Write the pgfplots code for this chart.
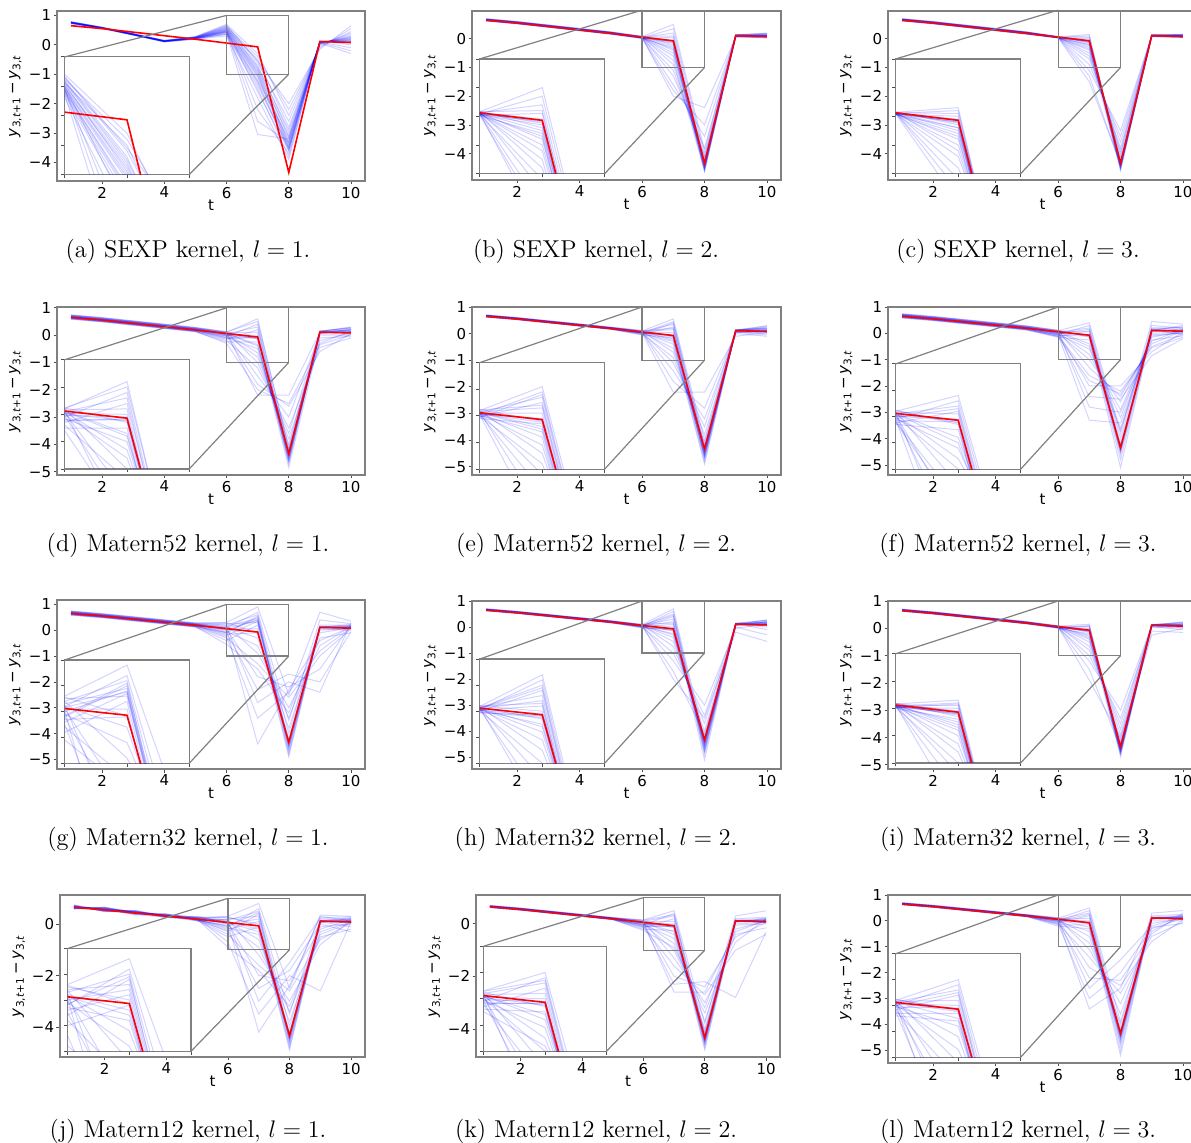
\documentclass[border=0pt]{standalone}
\usepackage{pgfplots}
\usepackage{pgfplotstable}
\pgfplotsset{compat=1.18}
\usepackage{fontspec}
\newfontfamily\dv{DejaVu Sans}
\newcommand\tickfont{\dv\fontsize{7.5}{8.5}\selectfont}

\pgfplotstableread{
1 0.65
2 0.55
3 0.43
4 0.31
5 0.19
6 0.06
7 -0.07
8 -4.34
9 0.11
10 0.08
}\tabR

% (a) SEXP l=1
\pgfplotstableread{
1 0.76 0.74 0.78 0.75 0.77 0.73 0.79 0.76 0.74 0.77 0.72 0.75 0.76 0.78 0.74 0.73 0.77 0.75 0.76 0.74 0.76 0.75 0.77 0.75
2 0.58 0.57 0.59 0.58 0.57 0.56 0.60 0.58 0.56 0.59 0.55 0.57 0.58 0.59 0.57 0.56 0.58 0.57 0.58 0.56 0.58 0.57 0.59 0.57
3 0.36 0.35 0.37 0.34 0.36 0.33 0.38 0.35 0.34 0.37 0.33 0.36 0.35 0.38 0.34 0.35 0.36 0.35 0.36 0.34 0.36 0.35 0.37 0.35
4 0.13 0.12 0.14 0.11 0.13 0.10 0.15 0.12 0.12 0.14 0.10 0.13 0.12 0.15 0.11 0.12 0.13 0.12 0.14 0.11 0.13 0.12 0.13 0.12
5 0.24 0.22 0.26 0.20 0.25 0.21 0.28 0.23 0.22 0.27 0.19 0.24 0.23 0.27 0.21 0.22 0.25 0.23 0.26 0.20 0.24 0.23 0.25 0.22
6 0.50 0.45 0.60 0.40 0.55 0.35 0.70 0.48 0.42 0.65 0.30 0.52 0.46 0.62 0.38 0.44 0.58 0.50 0.66 0.36 0.54 0.47 0.57 0.43
7 -0.90 -1.10 -0.70 -1.30 -0.50 -1.50 -0.30 -1.00 -1.20 -0.60 -1.80 -0.85 -2.20 -0.40 -1.40 -2.60 -0.75 -1.60 -0.55 -3.05 -0.95 -1.05 -0.80 -1.25
8 -3.30 -3.50 -3.00 -3.60 -2.80 -3.80 -2.40 -3.40 -3.20 -2.60 -3.90 -3.10 -3.70 -2.20 -3.50 -3.30 -2.90 -3.60 -2.00 -3.20 -3.35 -3.45 -3.15 -3.55
9 0.08 0.10 0.05 0.12 0.02 0.13 -0.05 0.09 0.11 0.00 0.14 0.07 0.10 -0.10 0.12 0.08 0.04 0.11 -0.15 0.06 0.09 0.10 0.06 0.11
10 0.20 0.15 0.30 0.10 0.35 0.05 0.45 0.25 0.18 0.40 0.00 0.22 -0.10 0.55 0.12 -0.20 0.28 0.08 0.65 -0.30 0.17 0.14 0.24 0.11
}\tabA

% (b) SEXP l=2
\pgfplotstableread{
1 0.69 0.64 0.67 0.63 0.68 0.66 0.65 0.70 0.62 0.68 0.64 0.67 0.66 0.69 0.63 0.67 0.65 0.68 0.64 0.66 0.70 0.65 0.67 0.63
2 0.59 0.54 0.57 0.53 0.58 0.56 0.55 0.60 0.52 0.58 0.54 0.57 0.56 0.59 0.53 0.57 0.55 0.58 0.54 0.56 0.60 0.55 0.57 0.53
3 0.47 0.42 0.45 0.41 0.46 0.44 0.43 0.48 0.40 0.46 0.42 0.45 0.44 0.47 0.41 0.45 0.43 0.46 0.42 0.44 0.48 0.43 0.45 0.41
4 0.35 0.30 0.33 0.29 0.34 0.32 0.31 0.36 0.28 0.34 0.30 0.33 0.32 0.35 0.29 0.33 0.31 0.34 0.30 0.32 0.36 0.31 0.33 0.29
5 0.23 0.18 0.21 0.17 0.22 0.20 0.19 0.24 0.16 0.22 0.18 0.21 0.20 0.23 0.17 0.21 0.19 0.22 0.18 0.20 0.24 0.19 0.21 0.17
6 0.08 0.04 0.06 0.02 0.07 0.05 0.03 0.09 0.01 0.06 0.04 0.05 0.05 0.07 0.03 0.06 0.04 0.05 0.03 0.06 0.08 0.05 0.04 0.02
7 0.50 0.35 0.20 0.05 -0.05 -0.10 -0.15 -0.20 -0.30 -0.40 -0.50 -0.60 -0.75 -0.90 -1.10 -1.30 -1.60 -2.00 -0.08 -0.12 0.10 -0.25 -0.35 -1.80
8 -3.90 -4.05 -4.20 -4.30 -4.40 -4.45 -4.50 -4.55 -4.60 -4.35 -4.40 -4.50 -4.62 -4.25 -4.10 -3.80 -3.40 -2.40 -4.38 -4.42 -4.48 -4.33 -4.58 -3.00
9 0.15 0.12 0.10 0.08 0.13 0.11 0.09 0.14 0.07 0.12 0.10 0.11 0.10 0.13 0.09 0.11 0.10 0.06 0.11 0.12 0.14 0.10 0.12 0.08
10 0.12 0.10 0.14 0.06 0.18 0.09 0.11 0.20 0.04 0.13 0.08 0.16 0.10 0.15 0.07 0.12 0.09 0.05 0.10 0.11 0.19 0.12 0.08 0.03
}\tabB

% (c) SEXP l=3
\pgfplotstableread{
1 0.69 0.64 0.67 0.63 0.68 0.66 0.65 0.70 0.62 0.68 0.64 0.67 0.66 0.69 0.63 0.67 0.65 0.68 0.64 0.66 0.70 0.65 0.67 0.63
2 0.59 0.54 0.57 0.53 0.58 0.56 0.55 0.60 0.52 0.58 0.54 0.57 0.56 0.59 0.53 0.57 0.55 0.58 0.54 0.56 0.60 0.55 0.57 0.53
3 0.47 0.42 0.45 0.41 0.46 0.44 0.43 0.48 0.40 0.46 0.42 0.45 0.44 0.47 0.41 0.45 0.43 0.46 0.42 0.44 0.48 0.43 0.45 0.41
4 0.35 0.30 0.33 0.29 0.34 0.32 0.31 0.36 0.28 0.34 0.30 0.33 0.32 0.35 0.29 0.33 0.31 0.34 0.30 0.32 0.36 0.31 0.33 0.29
5 0.23 0.18 0.21 0.17 0.22 0.20 0.19 0.24 0.16 0.22 0.18 0.21 0.20 0.23 0.17 0.21 0.19 0.22 0.18 0.20 0.24 0.19 0.21 0.17
6 0.07 0.05 0.06 0.04 0.06 0.05 0.04 0.08 0.03 0.06 0.04 0.05 0.05 0.07 0.04 0.06 0.05 0.06 0.04 0.05 0.07 0.05 0.06 0.03
7 0.15 0.10 0.05 0.00 -0.05 -0.10 -0.10 -0.15 -0.20 -0.25 -0.30 -0.40 -0.50 -0.60 -0.70 -0.90 -1.10 -1.30 -1.50 -0.08 -0.12 -0.06 -0.20 -0.35
8 -4.50 -4.45 -4.40 -4.35 -4.30 -4.50 -4.60 -4.40 -4.20 -4.30 -4.10 -4.00 -3.90 -3.80 -3.60 -3.40 -3.20 -4.40 -4.35 -4.50 -4.40 -4.30 -4.45 -4.55
9 0.13 0.11 0.12 0.09 0.14 0.10 0.11 0.15 0.08 0.12 0.10 0.11 0.09 0.13 0.10 0.12 0.11 0.14 0.09 0.11 0.12 0.10 0.13 0.08
10 0.10 0.08 0.12 0.06 0.14 0.09 0.11 0.16 0.05 0.12 0.07 0.13 0.09 0.15 0.06 0.10 0.08 0.12 0.07 0.09 0.14 0.11 0.10 0.04
}\tabC

% (d) Matern52 l=1
\pgfplotstableread{
1 0.72 0.62 0.68 0.60 0.70 0.66 0.64 0.74 0.58 0.70 0.62 0.68 0.66 0.72 0.60 0.68 0.64 0.70 0.62 0.66 0.74 0.64 0.68 0.60
2 0.62 0.52 0.58 0.50 0.60 0.56 0.54 0.64 0.48 0.60 0.52 0.58 0.56 0.62 0.50 0.58 0.54 0.60 0.52 0.56 0.64 0.54 0.58 0.50
3 0.50 0.40 0.46 0.38 0.48 0.44 0.42 0.52 0.36 0.48 0.40 0.46 0.44 0.50 0.38 0.46 0.42 0.48 0.40 0.44 0.52 0.42 0.46 0.38
4 0.38 0.28 0.34 0.26 0.36 0.32 0.30 0.40 0.24 0.36 0.28 0.34 0.32 0.38 0.26 0.34 0.30 0.36 0.28 0.32 0.40 0.30 0.34 0.26
5 0.26 0.16 0.22 0.14 0.24 0.20 0.18 0.28 0.12 0.24 0.16 0.22 0.20 0.26 0.14 0.22 0.18 0.24 0.16 0.20 0.28 0.18 0.22 0.14
6 0.10 -0.05 0.05 -0.15 0.08 0.02 -0.10 0.12 -0.25 0.06 -0.08 0.04 0.00 0.10 -0.20 0.03 -0.03 0.07 -0.12 0.01 0.12 -0.02 0.05 -0.30
7 0.60 0.40 0.30 0.20 0.10 0.00 -0.10 -0.15 -0.25 -0.35 -0.50 -0.65 -0.80 -1.00 -1.20 -1.50 -1.80 -2.20 -0.08 -0.12 0.50 -0.05 -0.40 -2.00
8 -4.20 -4.40 -4.50 -4.30 -4.60 -4.45 -4.35 -4.70 -4.85 -4.50 -4.20 -4.00 -3.80 -3.60 -3.40 -3.00 -2.60 -2.20 -4.40 -4.55 -4.10 -4.65 -4.30 -2.50
9 0.15 0.10 0.12 0.05 0.13 0.08 0.00 0.14 -0.10 0.11 -0.20 0.09 -0.30 0.12 -0.45 0.06 -0.60 0.10 0.11 0.13 0.15 0.09 0.07 -0.35
10 0.25 0.10 0.20 0.05 0.30 0.12 0.00 0.28 -0.05 0.18 0.08 0.22 0.15 0.10 -0.10 0.20 0.05 0.15 0.12 0.18 0.26 0.09 0.14 0.02
}\tabD

% (e) Matern52 l=2
\pgfplotstableread{
1 0.69 0.64 0.67 0.63 0.68 0.66 0.65 0.70 0.62 0.68 0.64 0.67 0.66 0.69 0.63 0.67 0.65 0.68 0.64 0.66 0.70 0.65 0.67 0.63
2 0.59 0.54 0.57 0.53 0.58 0.56 0.55 0.60 0.52 0.58 0.54 0.57 0.56 0.59 0.53 0.57 0.55 0.58 0.54 0.56 0.60 0.55 0.57 0.53
3 0.47 0.42 0.45 0.41 0.46 0.44 0.43 0.48 0.40 0.46 0.42 0.45 0.44 0.47 0.41 0.45 0.43 0.46 0.42 0.44 0.48 0.43 0.45 0.41
4 0.35 0.30 0.33 0.29 0.34 0.32 0.31 0.36 0.28 0.34 0.30 0.33 0.32 0.35 0.29 0.33 0.31 0.34 0.30 0.32 0.36 0.31 0.33 0.29
5 0.23 0.18 0.21 0.17 0.22 0.20 0.19 0.24 0.16 0.22 0.18 0.21 0.20 0.23 0.17 0.21 0.19 0.22 0.18 0.20 0.24 0.19 0.21 0.17
6 0.10 0.02 0.07 -0.02 0.08 0.05 0.03 0.12 -0.05 0.06 0.01 0.05 0.04 0.09 0.00 0.06 0.03 0.07 0.02 0.05 0.11 0.04 0.06 -0.03
7 0.55 0.45 0.35 0.25 0.15 0.05 -0.05 -0.10 -0.15 -0.20 -0.30 -0.40 -0.55 -0.70 -0.90 -1.10 -1.40 -1.80 -2.20 -0.08 0.20 -0.12 -0.25 0.40
8 -4.00 -4.20 -4.40 -4.50 -4.60 -4.70 -4.45 -4.35 -4.55 -4.65 -4.80 -4.90 -4.30 -4.10 -3.80 -3.50 -3.20 -2.80 -2.20 -4.40 -4.50 -4.38 -4.60 -4.25
9 0.15 0.12 0.10 0.08 0.13 0.11 0.09 0.14 0.07 0.12 0.10 0.11 0.06 0.13 0.05 0.11 0.00 0.04 -0.10 0.11 0.12 0.10 0.12 0.14
10 0.20 0.10 0.25 0.05 0.30 0.09 0.12 0.22 0.00 0.15 0.08 0.18 -0.05 0.20 0.06 0.12 -0.10 0.10 0.04 0.10 0.28 0.12 0.08 0.16
}\tabE

% (f) Matern52 l=3
\pgfplotstableread{
1 0.72 0.62 0.68 0.60 0.70 0.66 0.64 0.74 0.58 0.70 0.62 0.68 0.66 0.72 0.60 0.68 0.64 0.70 0.62 0.66 0.74 0.64 0.68 0.60
2 0.62 0.52 0.58 0.50 0.60 0.56 0.54 0.64 0.48 0.60 0.52 0.58 0.56 0.62 0.50 0.58 0.54 0.60 0.52 0.56 0.64 0.54 0.58 0.50
3 0.50 0.40 0.46 0.38 0.48 0.44 0.42 0.52 0.36 0.48 0.40 0.46 0.44 0.50 0.38 0.46 0.42 0.48 0.40 0.44 0.52 0.42 0.46 0.38
4 0.38 0.28 0.34 0.26 0.36 0.32 0.30 0.40 0.24 0.36 0.28 0.34 0.32 0.38 0.26 0.34 0.30 0.36 0.28 0.32 0.40 0.30 0.34 0.26
5 0.26 0.16 0.22 0.14 0.24 0.20 0.18 0.28 0.12 0.24 0.16 0.22 0.20 0.26 0.14 0.22 0.18 0.24 0.16 0.20 0.28 0.18 0.22 0.14
6 0.10 -0.05 0.05 -0.12 0.08 0.02 -0.08 0.12 -0.15 0.06 -0.04 0.04 0.00 0.09 -0.10 0.03 -0.02 0.07 -0.06 0.01 0.11 -0.01 0.05 -0.12
7 0.40 0.30 0.20 0.10 0.05 -0.05 -0.10 -0.15 -0.25 -0.40 -0.60 -0.80 -1.00 -1.30 -1.60 -2.00 -2.40 -2.80 -3.30 -0.08 -0.12 0.15 -0.50 -1.80
8 -3.80 -4.00 -4.20 -4.40 -4.50 -4.60 -4.80 -5.10 -4.35 -3.60 -3.20 -2.90 -2.60 -2.40 -2.20 -2.00 -2.50 -3.00 -3.40 -4.40 -4.50 -4.30 -3.70 -2.30
9 0.45 0.30 0.20 0.15 0.12 0.10 0.08 0.11 0.13 0.05 -0.05 -0.15 -0.25 -0.40 -0.55 -0.70 -0.85 -0.30 -0.10 0.11 0.12 0.20 0.00 -0.50
10 0.35 0.20 0.15 0.10 0.25 0.05 0.12 0.30 -0.05 0.18 0.00 0.08 -0.10 0.10 -0.15 0.05 -0.20 0.15 0.02 0.10 0.12 0.22 0.06 -0.05
}\tabF

% (g) Matern32 l=1
\pgfplotstableread{
1 0.72 0.62 0.68 0.60 0.70 0.66 0.64 0.74 0.58 0.70 0.62 0.68 0.66 0.72 0.60 0.68 0.64 0.70 0.62 0.66 0.74 0.64 0.68 0.60
2 0.62 0.52 0.58 0.50 0.60 0.56 0.54 0.64 0.48 0.60 0.52 0.58 0.56 0.62 0.50 0.58 0.54 0.60 0.52 0.56 0.64 0.54 0.58 0.50
3 0.50 0.40 0.46 0.38 0.48 0.44 0.42 0.52 0.36 0.48 0.40 0.46 0.44 0.50 0.38 0.46 0.42 0.48 0.40 0.44 0.52 0.42 0.46 0.38
4 0.38 0.28 0.34 0.26 0.36 0.32 0.30 0.40 0.24 0.36 0.28 0.34 0.32 0.38 0.26 0.34 0.30 0.36 0.28 0.32 0.40 0.30 0.34 0.26
5 0.26 0.16 0.22 0.14 0.24 0.20 0.18 0.28 0.12 0.24 0.16 0.22 0.20 0.26 0.14 0.22 0.18 0.24 0.16 0.20 0.28 0.18 0.22 0.14
6 0.30 0.10 0.20 -0.10 0.15 0.00 -0.20 0.25 -0.40 0.05 -0.15 0.10 -0.05 0.20 -0.30 0.05 -0.10 0.12 -0.25 0.02 0.28 -0.08 0.08 -0.55
7 0.90 0.70 0.60 0.50 0.45 0.40 0.35 0.30 0.20 0.05 -0.10 -0.30 -0.60 -0.90 -1.30 -1.80 -2.30 -2.80 -3.40 -4.40 -0.08 0.55 0.38 -1.50
8 -2.50 -3.50 -4.00 -4.30 -4.50 -4.60 -4.70 -4.40 -4.80 -4.90 -4.20 -3.80 -3.40 -3.00 -2.60 -2.20 -1.70 -2.00 -2.40 -2.30 -4.45 -4.55 -4.35 -3.20
9 0.70 0.40 0.20 0.15 0.12 0.10 0.14 0.08 0.13 0.11 0.05 -0.10 -0.30 -0.60 -1.00 -1.50 -2.00 -2.40 -0.80 -0.40 0.11 0.12 0.10 0.00
10 0.35 0.25 0.20 0.10 0.15 0.05 0.18 0.12 0.08 0.22 0.00 0.10 -0.10 0.15 0.05 0.20 -0.05 0.30 0.10 0.12 0.14 0.08 0.16 0.06
}\tabG

% (h) Matern32 l=2
\pgfplotstableread{
1 0.69 0.64 0.67 0.63 0.68 0.66 0.65 0.70 0.62 0.68 0.64 0.67 0.66 0.69 0.63 0.67 0.65 0.68 0.64 0.66 0.70 0.65 0.67 0.63
2 0.59 0.54 0.57 0.53 0.58 0.56 0.55 0.60 0.52 0.58 0.54 0.57 0.56 0.59 0.53 0.57 0.55 0.58 0.54 0.56 0.60 0.55 0.57 0.53
3 0.47 0.42 0.45 0.41 0.46 0.44 0.43 0.48 0.40 0.46 0.42 0.45 0.44 0.47 0.41 0.45 0.43 0.46 0.42 0.44 0.48 0.43 0.45 0.41
4 0.35 0.30 0.33 0.29 0.34 0.32 0.31 0.36 0.28 0.34 0.30 0.33 0.32 0.35 0.29 0.33 0.31 0.34 0.30 0.32 0.36 0.31 0.33 0.29
5 0.23 0.18 0.21 0.17 0.22 0.20 0.19 0.24 0.16 0.22 0.18 0.21 0.20 0.23 0.17 0.21 0.19 0.22 0.18 0.20 0.24 0.19 0.21 0.17
6 0.09 0.03 0.06 0.00 0.08 0.05 0.02 0.10 -0.03 0.07 0.02 0.05 0.04 0.08 0.01 0.06 0.03 0.07 0.02 0.05 0.10 0.04 0.06 -0.02
7 0.70 0.60 0.50 0.40 0.30 0.20 0.10 0.00 -0.08 -0.15 -0.25 -0.40 -0.55 -0.75 -1.00 -1.30 -1.70 -2.00 -0.10 0.45 0.15 -0.05 -0.30 -0.12
8 -4.30 -4.50 -4.60 -4.70 -4.80 -4.90 -5.10 -4.40 -4.45 -4.55 -4.35 -4.20 -4.00 -3.70 -3.40 -3.00 -4.10 -3.50 -4.40 -4.65 -4.75 -4.50 -4.30 -4.38
9 0.15 0.12 0.10 0.13 0.08 0.11 0.14 0.09 0.12 0.10 0.11 0.07 0.13 0.05 0.10 -0.05 0.00 -0.20 0.11 0.12 0.14 0.10 0.09 0.12
10 0.25 0.15 0.20 0.08 0.28 0.10 0.18 0.12 0.05 0.22 0.00 0.15 -0.10 0.20 0.06 0.12 -0.30 -0.55 0.10 0.18 0.26 0.12 0.08 0.14
}\tabH

% (i) Matern32 l=3
\pgfplotstableread{
1 0.69 0.64 0.67 0.63 0.68 0.66 0.65 0.70 0.62 0.68 0.64 0.67 0.66 0.69 0.63 0.67 0.65 0.68 0.64 0.66 0.70 0.65 0.67 0.63
2 0.59 0.54 0.57 0.53 0.58 0.56 0.55 0.60 0.52 0.58 0.54 0.57 0.56 0.59 0.53 0.57 0.55 0.58 0.54 0.56 0.60 0.55 0.57 0.53
3 0.47 0.42 0.45 0.41 0.46 0.44 0.43 0.48 0.40 0.46 0.42 0.45 0.44 0.47 0.41 0.45 0.43 0.46 0.42 0.44 0.48 0.43 0.45 0.41
4 0.35 0.30 0.33 0.29 0.34 0.32 0.31 0.36 0.28 0.34 0.30 0.33 0.32 0.35 0.29 0.33 0.31 0.34 0.30 0.32 0.36 0.31 0.33 0.29
5 0.23 0.18 0.21 0.17 0.22 0.20 0.19 0.24 0.16 0.22 0.18 0.21 0.20 0.23 0.17 0.21 0.19 0.22 0.18 0.20 0.24 0.19 0.21 0.17
6 0.08 0.04 0.06 0.02 0.07 0.05 0.03 0.09 0.00 0.06 0.03 0.05 0.04 0.08 0.02 0.06 0.04 0.06 0.03 0.05 0.09 0.04 0.06 0.01
7 0.15 0.10 0.05 0.00 -0.05 -0.10 -0.10 -0.15 -0.20 -0.30 -0.40 -0.50 -0.65 -0.80 -1.00 -1.20 -1.50 -1.90 -0.08 -0.12 -0.06 -0.25 -0.35 0.08
8 -4.40 -4.50 -4.55 -4.60 -4.70 -4.45 -4.35 -4.50 -4.30 -4.20 -4.10 -3.90 -3.70 -3.50 -3.30 -3.00 -4.40 -4.00 -4.38 -4.48 -4.42 -4.25 -4.60 -4.50
9 0.14 0.11 0.12 0.09 0.13 0.10 0.11 0.14 0.08 0.12 0.10 0.11 0.06 0.13 0.03 0.10 -0.10 -0.25 0.11 0.12 0.10 0.12 0.09 0.13
10 0.18 0.10 0.15 0.06 0.22 0.09 0.12 0.20 0.04 0.15 0.08 0.12 -0.05 0.16 0.02 0.10 -0.15 0.00 0.10 0.12 0.24 0.11 0.08 0.14
}\tabI

% (j) Matern12 l=1
\pgfplotstableread{
1 0.72 0.62 0.68 0.60 0.70 0.66 0.64 0.74 0.58 0.70 0.62 0.68 0.66 0.72 0.60 0.68 0.64 0.70 0.62 0.66 0.74 0.64 0.68 0.60
2 0.52 0.62 0.58 0.64 0.50 0.56 0.60 0.54 0.66 0.50 0.60 0.55 0.62 0.48 0.58 0.53 0.61 0.52 0.63 0.57 0.50 0.59 0.54 0.65
3 0.48 0.40 0.50 0.42 0.46 0.38 0.47 0.52 0.44 0.49 0.36 0.45 0.41 0.50 0.43 0.39 0.48 0.46 0.42 0.44 0.53 0.40 0.47 0.45
4 0.28 0.36 0.30 0.38 0.34 0.26 0.33 0.29 0.40 0.31 0.35 0.27 0.37 0.32 0.30 0.36 0.28 0.34 0.39 0.32 0.30 0.35 0.33 0.25
5 0.24 0.16 0.26 0.20 0.12 0.22 0.18 0.28 0.14 0.23 0.19 0.25 0.15 0.21 0.17 0.27 0.13 0.20 0.24 0.18 0.22 0.16 0.29 0.19
6 0.30 -0.10 0.15 -0.30 0.20 0.00 -0.20 0.25 -0.50 0.10 -0.15 0.08 -0.05 0.18 -0.40 0.05 -0.25 0.12 -0.70 0.02 0.28 -0.08 0.06 -0.90
7 0.80 0.60 0.50 0.40 0.30 0.20 0.10 0.00 -0.10 -0.20 -0.40 -0.60 -0.90 -1.20 -1.60 -2.00 -2.50 -3.00 -3.50 -4.20 -0.08 0.45 -0.30 -1.80
8 -2.50 -3.50 -4.00 -4.30 -4.50 -4.60 -4.70 -4.80 -4.90 -4.40 -4.20 -3.80 -3.40 -3.00 -2.60 -2.20 -1.80 -1.50 -2.00 -2.40 -4.45 -4.55 -4.35 -3.20
9 0.35 0.20 0.15 0.10 0.12 0.08 0.14 0.11 0.13 0.05 -0.10 -0.30 -0.50 -0.80 -0.60 -0.20 0.00 0.25 -2.60 0.30 0.11 0.12 0.10 -0.40
10 0.30 0.20 0.15 0.05 0.25 -0.10 0.18 0.12 0.08 0.22 0.00 0.10 -0.20 0.15 0.05 0.20 -0.30 0.28 0.10 0.12 0.14 0.08 0.16 0.06
}\tabJ

% (k) Matern12 l=2
\pgfplotstableread{
1 0.69 0.64 0.67 0.63 0.68 0.66 0.65 0.70 0.62 0.68 0.64 0.67 0.66 0.69 0.63 0.67 0.65 0.68 0.64 0.66 0.70 0.65 0.67 0.63
2 0.59 0.54 0.57 0.53 0.58 0.56 0.55 0.60 0.52 0.58 0.54 0.57 0.56 0.59 0.53 0.57 0.55 0.58 0.54 0.56 0.60 0.55 0.57 0.53
3 0.47 0.42 0.45 0.41 0.46 0.44 0.43 0.48 0.40 0.46 0.42 0.45 0.44 0.47 0.41 0.45 0.43 0.46 0.42 0.44 0.48 0.43 0.45 0.41
4 0.35 0.30 0.33 0.29 0.34 0.32 0.31 0.36 0.28 0.34 0.30 0.33 0.32 0.35 0.29 0.33 0.31 0.34 0.30 0.32 0.36 0.31 0.33 0.29
5 0.23 0.18 0.21 0.17 0.22 0.20 0.19 0.24 0.16 0.22 0.18 0.21 0.20 0.23 0.17 0.21 0.19 0.22 0.18 0.20 0.24 0.19 0.21 0.17
6 0.15 -0.05 0.10 -0.15 0.08 0.03 -0.08 0.12 -0.20 0.06 -0.03 0.05 0.00 0.10 -0.12 0.04 -0.05 0.07 -0.10 0.02 0.14 -0.02 0.05 -0.25
7 0.50 0.40 0.30 0.20 0.10 0.00 -0.10 -0.15 -0.25 -0.40 -0.55 -0.75 -1.00 -1.30 -1.60 -2.00 -2.30 -2.60 -0.08 -0.12 0.35 -0.05 -0.30 -0.90
8 -3.80 -4.20 -4.40 -4.50 -4.60 -4.70 -4.80 -4.45 -4.35 -4.20 -4.00 -3.70 -3.40 -3.00 -2.70 -2.40 -2.20 -2.60 -4.40 -4.50 -4.30 -4.55 -4.10 -3.20
9 0.30 0.20 0.15 0.12 0.10 0.14 0.08 0.11 0.13 0.05 -0.05 -0.20 -0.40 -0.70 -1.00 -0.50 -2.80 -0.30 0.11 0.12 0.10 0.13 0.09 0.00
10 0.50 0.25 0.20 0.10 0.15 0.05 0.18 0.12 0.08 0.22 0.00 0.10 -0.15 0.20 -0.40 0.05 -0.30 0.15 0.10 0.12 0.14 0.08 0.16 0.06
}\tabK

% (l) Matern12 l=3
\pgfplotstableread{
1 0.69 0.64 0.67 0.63 0.68 0.66 0.65 0.70 0.62 0.68 0.64 0.67 0.66 0.69 0.63 0.67 0.65 0.68 0.64 0.66 0.70 0.65 0.67 0.63
2 0.59 0.54 0.57 0.53 0.58 0.56 0.55 0.60 0.52 0.58 0.54 0.57 0.56 0.59 0.53 0.57 0.55 0.58 0.54 0.56 0.60 0.55 0.57 0.53
3 0.47 0.42 0.45 0.41 0.46 0.44 0.43 0.48 0.40 0.46 0.42 0.45 0.44 0.47 0.41 0.45 0.43 0.46 0.42 0.44 0.48 0.43 0.45 0.41
4 0.35 0.30 0.33 0.29 0.34 0.32 0.31 0.36 0.28 0.34 0.30 0.33 0.32 0.35 0.29 0.33 0.31 0.34 0.30 0.32 0.36 0.31 0.33 0.29
5 0.23 0.18 0.21 0.17 0.22 0.20 0.19 0.24 0.16 0.22 0.18 0.21 0.20 0.23 0.17 0.21 0.19 0.22 0.18 0.20 0.24 0.19 0.21 0.17
6 0.10 0.00 0.07 -0.08 0.08 0.04 -0.03 0.12 -0.15 0.06 -0.02 0.05 0.02 0.09 -0.10 0.05 -0.05 0.07 -0.12 0.03 0.11 0.00 0.06 -0.20
7 0.50 0.40 0.30 0.20 0.10 0.00 -0.05 -0.10 -0.15 -0.25 -0.40 -0.60 -0.85 -1.10 -1.40 -1.80 -2.20 -2.60 -3.00 -3.40 -0.08 0.25 -0.12 -0.30
8 -3.90 -4.20 -4.40 -4.50 -4.60 -4.70 -4.80 -5.00 -5.20 -4.45 -4.30 -4.00 -3.60 -3.20 -2.80 -2.50 -2.30 -1.50 -2.00 -2.60 -4.40 -4.55 -4.35 -4.50
9 0.30 0.20 0.15 0.12 0.10 0.14 0.08 0.11 0.13 0.05 0.00 -0.10 -0.25 -0.40 -0.60 -0.80 -0.50 -0.20 -0.30 0.10 0.11 0.12 0.10 0.13
10 0.40 0.25 0.20 0.10 0.15 0.05 0.18 0.12 0.08 0.22 0.00 0.10 -0.10 0.20 -0.05 0.05 0.30 0.15 0.10 0.12 0.14 0.08 0.16 0.06
}\tabL

\tikzset{box/.style={black!50, line width=0.6pt}}
\pgfplotsset{
  bl/.style={blue, opacity=0.17, line width=0.5pt},
  rd/.style={red, line width=0.8pt},
  mainax/.style={scale only axis, xmin=0.55, xmax=10.45, xtick={2,4,6,8,10},
    tick align=outside, major tick length=1.75pt,
    xtick pos=bottom, ytick pos=left,
    axis line style={black!50, line width=0.6pt},
    tick style={black!70, line width=0.4pt},
    ticklabel style={font=\tickfont, inner sep=1pt},
    /pgf/number format/assume math mode=true,
    xlabel={\tickfont t},
    every axis x label/.style={at={(axis description cs:0.5,0)}, anchor=center, yshift=-12pt},
    ylabel={\tickfont\textit{y}\textsubscript{3,\textit{t}+1}\,−\,\textit{y}\textsubscript{3,\textit{t}}},
    every axis y label/.style={at={(axis description cs:-0.135,0.5)}, rotate=90, anchor=center}},
  inax/.style={scale only axis, xmin=6, xmax=8, ymin=-1, ymax=1,
    xtick={6,7,8}, ytick={-1,-0.5,0,0.5,1}, xticklabels={}, yticklabels={},
    tick align=outside, major tick length=1.75pt,
    xtick pos=bottom, ytick pos=left,
    axis line style={black!50, line width=0.6pt},
    tick style={black!70, line width=0.4pt},
    axis background/.style={fill=white}}
}

% #1 table, #2 left px, #3 top px, #4 width px, #5 height px, #6 ymin, #7 ymax, #8 extra
\newcommand\panel[8]{%
  \pgfmathsetmacro\pl{#2/2}\pgfmathsetmacro\py{-#3/2}%
  \pgfmathsetmacro\pw{#4/2}\pgfmathsetmacro\ph{#5/2}%
  \pgfmathsetmacro\iw{\pw*4/9.9}\pgfmathsetmacro\ih{\ph*4/(#7-(#6))}%
  \pgfmathsetmacro\ib{#6+0.22}%
  \begin{axis}[mainax, at={(\pl pt,\py pt)}, anchor=north west,
      width=\pw pt, height=\ph pt, ymin=#6, ymax=#7, #8]
    \pgfplotsinvokeforeach{1,...,24}{\addplot[bl] table[x index=0, y index=##1]{#1};}
    \addplot[rd] table[x index=0, y index=1]{\tabR};
    \draw[box] (axis cs:6,-1) rectangle (axis cs:8,1);
    \coordinate (rtl) at (axis cs:6,1);
    \coordinate (rbr) at (axis cs:8,-1);
    \coordinate (ins) at (axis cs:0.8,\ib);
  \end{axis}
  \begin{axis}[inax, at={(ins)}, anchor=south west, width=\iw pt, height=\ih pt]
    \pgfplotsinvokeforeach{1,...,24}{\addplot[bl] table[x index=0, y index=##1]{#1};}
    \addplot[rd] table[x index=0, y index=1]{\tabR};
  \end{axis}
  \draw[box] (current axis.north west) -- (rtl);
  \draw[box] (current axis.south east) -- (rbr);
}

\begin{document}
\begin{tikzpicture}
\useasboundingbox (0,0) rectangle (595.5pt,-571.5pt);

\panel{\tabA}{57}{11}{308}{170}{-4.63}{1.15}{ytick={-4,-3,-2,-1,0,1}, yticklabels={−4,−3,−2,−1,0,1}}
\panel{\tabB}{472}{11}{309}{169}{-4.92}{0.97}{ytick={-4,-3,-2,-1,0}, yticklabels={−4,−3,−2,−1,0}}
\panel{\tabC}{888}{11}{309}{169}{-4.92}{0.97}{ytick={-4,-3,-2,-1,0}, yticklabels={−4,−3,−2,−1,0}}

\panel{\tabD}{57}{307}{308}{168}{-5.12}{1.03}{ytick={-5,-4,-3,-2,-1,0,1}, yticklabels={−5,−4,−3,−2,−1,0,1}}
\panel{\tabE}{472}{307}{309}{168}{-5.31}{1.0}{ytick={-5,-4,-3,-2,-1,0,1}, yticklabels={−5,−4,−3,−2,−1,0,1}}
\panel{\tabF}{888}{307}{309}{168}{-5.38}{1.0}{ytick={-5,-4,-3,-2,-1,0,1}, yticklabels={−5,−4,−3,−2,−1,0,1}}

\panel{\tabG}{57}{600}{308}{169}{-5.37}{1.17}{ytick={-5,-4,-3,-2,-1,0,1}, yticklabels={−5,−4,−3,−2,−1,0,1}}
\panel{\tabH}{472}{601}{309}{168}{-5.45}{1.0}{ytick={-5,-4,-3,-2,-1,0,1}, yticklabels={−5,−4,−3,−2,−1,0,1}}
\panel{\tabI}{888}{601}{309}{168}{-5.15}{1.0}{ytick={-5,-4,-3,-2,-1,0,1}, yticklabels={−5,−4,−3,−2,−1,0,1}}

\panel{\tabJ}{60}{895}{305}{162}{-5.17}{1.13}{ytick={-4,-2,0}, yticklabels={−4,−2,0}}
\panel{\tabK}{476}{895}{304}{162}{-5.07}{1.10}{ytick={-4,-2,0}, yticklabels={−4,−2,0}}
\panel{\tabL}{888}{895}{309}{168}{-5.49}{1.0}{ytick={-5,-4,-3,-2,-1,0,1}, yticklabels={−5,−4,−3,−2,−1,0,1}}

\begin{scope}[every node/.style={font=\fontsize{12.2}{14}\selectfont, anchor=center}]
\node at (94pt,-125.5pt) {(a) SEXP kernel, $l=1$.};
\node at (298pt,-125.5pt) {(b) SEXP kernel, $l=2$.};
\node at (509pt,-125.5pt) {(c) SEXP kernel, $l=3$.};
\node at (94pt,-272.5pt) {(d) Matern52 kernel, $l=1$.};
\node at (298pt,-272.5pt) {(e) Matern52 kernel, $l=2$.};
\node at (509pt,-272.5pt) {(f) Matern52 kernel, $l=3$.};
\node at (94pt,-419.5pt) {(g) Matern32 kernel, $l=1$.};
\node at (298pt,-419.5pt) {(h) Matern32 kernel, $l=2$.};
\node at (509pt,-419.5pt) {(i) Matern32 kernel, $l=3$.};
\node at (94pt,-565.5pt) {(j) Matern12 kernel, $l=1$.};
\node at (298pt,-565.5pt) {(k) Matern12 kernel, $l=2$.};
\node at (509pt,-565.5pt) {(l) Matern12 kernel, $l=3$.};
\end{scope}
\end{tikzpicture}
\end{document}
